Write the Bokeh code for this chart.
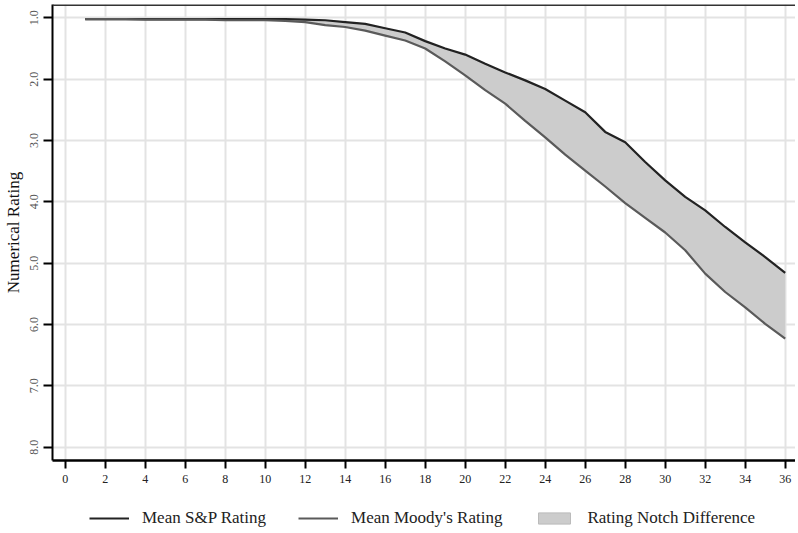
from bokeh.plotting import figure
from bokeh.layouts import column
from bokeh.models import Range1d, FixedTicker, Legend, LegendItem, Span, CustomJSTickFormatter, ColumnDataSource
from bokeh.embed import file_html
from bokeh.resources import INLINE

months = list(range(1, 37))
sp_rating = [1.02, 1.02, 1.02, 1.02, 1.02, 1.02, 1.02, 1.02, 1.02, 1.02,
             1.02, 1.03, 1.04, 1.07, 1.10, 1.17, 1.24, 1.38, 1.50, 1.60,
             1.75, 1.89, 2.02, 2.16, 2.35, 2.54, 2.86, 3.03, 3.35, 3.65,
             3.92, 4.14, 4.41, 4.66, 4.90, 5.16]
moody_rating = [1.02, 1.02, 1.02, 1.03, 1.03, 1.03, 1.03, 1.04, 1.04, 1.04,
                1.05, 1.07, 1.12, 1.15, 1.21, 1.29, 1.37, 1.50, 1.71, 1.94,
                2.18, 2.40, 2.68, 2.95, 3.23, 3.49, 3.75, 4.02, 4.26, 4.50,
                4.79, 5.17, 5.47, 5.72, 5.99, 6.23]
x_ticks = list(range(0, 37, 2))
y_ticks = [1, 2, 3, 4, 5, 6, 7, 8]
series_names = ["Mean S&P Rating", "Mean Moody's Rating", "Rating Notch Difference"]

SERIF = "Liberation Serif"
SP_COLOR = "#222222"
MD_COLOR = "#5a5a5a"
FILL_COLOR = "#cccccc"

src = ColumnDataSource(dict(x=months, sp=sp_rating, md=moody_rating))

p = figure(width=795, height=490, output_backend="svg", toolbar_location=None,
           x_range=Range1d(-0.635, 36.515), y_range=Range1d(8.217, 0.783),
           min_border_left=52, min_border_right=0, min_border_top=4, min_border_bottom=30)
p.outline_line_color = None
p.background_fill_color = "white"

p.varea(x="x", y1="sp", y2="md", source=src, fill_color=FILL_COLOR)
p.line(x="x", y="sp", source=src, line_color=SP_COLOR, line_width=2.2)
p.line(x="x", y="md", source=src, line_color=MD_COLOR, line_width=2.2)

# top border
p.add_layout(Span(location=0.783, dimension="width", line_color="#333333", line_width=3))

# grids
p.xgrid.ticker = FixedTicker(ticks=x_ticks)
p.ygrid.ticker = FixedTicker(ticks=y_ticks)
p.grid.grid_line_color = "#e3e3e3"
p.grid.grid_line_width = 2

# x axis
xa = p.xaxis[0]
xa.ticker = FixedTicker(ticks=x_ticks)
xa.minor_tick_line_color = None
xa.major_tick_out = 8
xa.major_tick_in = 0
xa.major_tick_line_width = 2
xa.major_tick_line_color = "black"
xa.axis_line_color = "black"
xa.axis_line_width = 2.5
xa.major_label_text_font = SERIF
xa.major_label_text_font_size = "12px"
xa.major_label_text_color = "#222222"
xa.major_label_standoff = 6

# y axis
ya = p.yaxis[0]
ya.ticker = FixedTicker(ticks=y_ticks)
ya.formatter = CustomJSTickFormatter(code="return tick.toFixed(1);")
ya.minor_tick_line_color = None
ya.major_tick_out = 9
ya.major_tick_in = 0
ya.major_tick_line_width = 2
ya.major_tick_line_color = "black"
ya.axis_line_color = "black"
ya.axis_line_width = 2
ya.major_label_orientation = "vertical"
ya.major_label_text_font = SERIF
ya.major_label_text_font_size = "12px"
ya.major_label_text_color = "#555555"
ya.major_label_standoff = 5
ya.axis_label = "Numerical Rating"
ya.axis_label_text_font = SERIF
ya.axis_label_text_font_style = "normal"
ya.axis_label_text_font_size = "17px"
ya.axis_label_text_color = "#111111"
ya.axis_label_standoff = 5

# legend strip
lg = figure(width=795, height=43, output_backend="svg", toolbar_location=None,
            x_range=Range1d(0, 1), y_range=Range1d(0, 1),
            min_border=0)
lg.axis.visible = False
lg.grid.visible = False
lg.outline_line_color = None
r1 = lg.line(x=[5, 6], y=[5, 5], line_color=SP_COLOR, line_width=2.2)
r2 = lg.line(x=[5, 6], y=[5, 5], line_color=MD_COLOR, line_width=2.2)
r3 = lg.quad(left=[5], right=[6], top=[6], bottom=[5], fill_color=FILL_COLOR, line_color="#bbbbbb")
legend = Legend(items=[
    LegendItem(label=series_names[0], renderers=[r1]),
    LegendItem(label=series_names[1], renderers=[r2]),
    LegendItem(label=series_names[2], renderers=[r3]),
], orientation="horizontal", location=(37, 5))
legend.label_text_font = SERIF
legend.label_text_font_size = "17px"
legend.label_text_color = "#222222"
legend.glyph_width = 40
legend.glyph_height = 14
legend.label_standoff = 13
legend.spacing = 32
legend.border_line_color = None
legend.background_fill_alpha = 0
legend.padding = 4
legend.margin = 0
lg.add_layout(legend)

layout = column(p, lg, spacing=0)
open("out.html", "w").write(file_html(layout, INLINE))
